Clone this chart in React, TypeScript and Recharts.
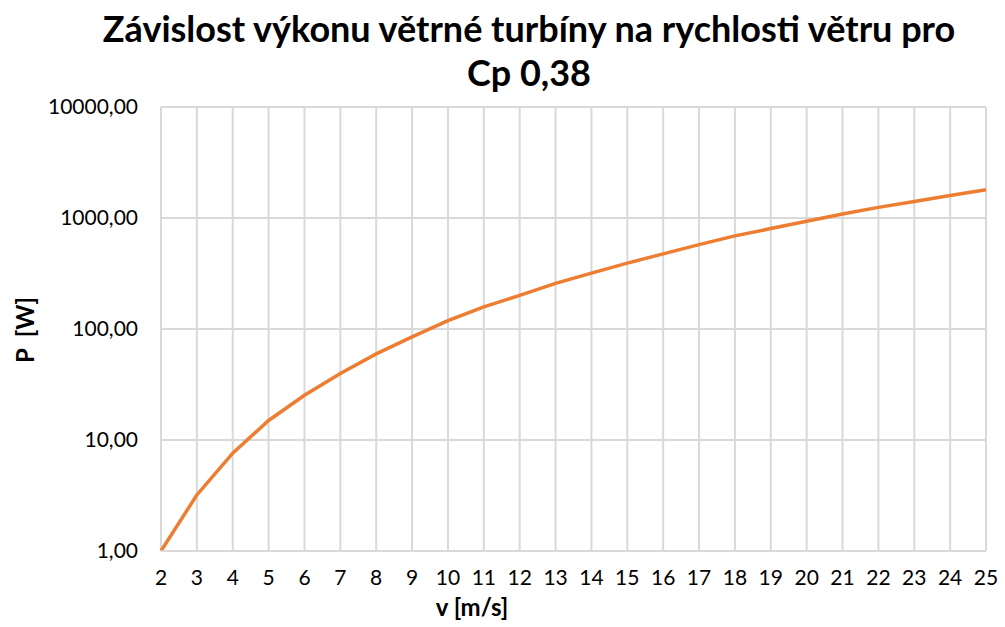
import { LineChart, Line, CartesianGrid, XAxis, YAxis } from "recharts";

const speeds = [2, 3, 4, 5, 6, 7, 8, 9, 10, 11, 12, 13, 14, 15, 16, 17, 18, 19, 20, 21, 22, 23, 24, 25];
const power = [
  1.0, 3.2, 7.6, 15.0, 25.3, 39.8, 59.7, 85.0, 118.7, 158, 201, 258, 319, 392,
  475, 575, 690, 803, 934, 1086, 1247, 1410, 1597, 1796,
];
const yTicks = [1, 10, 100, 1000, 10000];

const data = speeds.map((v, i) => ({ v: String(v), p: power[i] }));

const FONT = "Lato, 'Open Sans', sans-serif";
const fmt = (n: number) => n.toFixed(2).replace(".", ",");

export default function App() {
  return (
    <div
      style={{
        position: "absolute",
        left: 0,
        top: 0,
        width: 1005,
        height: 627,
        background: "#fff",
        fontFamily: FONT,
      }}
    >
      <div
        style={{
          position: "absolute",
          left: 0,
          top: 6,
          width: 1058,
          textAlign: "center",
          fontSize: 36,
          fontWeight: 700,
          lineHeight: "44px",
          color: "#000",
        }}
      >
        Závislost výkonu větrné turbíny na rychlosti větru pro
        <br />
        Cp 0,38
      </div>
      <LineChart
        width={1005}
        height={627}
        data={data}
        margin={{ top: 107, right: 19, bottom: 46, left: 36 }}
      >
        <CartesianGrid stroke="#d9d9d9" strokeWidth={2} />
        <XAxis
          dataKey="v"
          interval={0}
          tickLine={false}
          axisLine={{ stroke: "#d9d9d9", strokeWidth: 2 }}
          tickMargin={13}
          tick={{ fill: "#000", fontSize: 21, fontFamily: FONT }}
        />
        <YAxis
          scale="log"
          domain={[1, 10000]}
          ticks={yTicks}
          allowDataOverflow
          width={125}
          tickLine={false}
          axisLine={false}
          tickMargin={17}
          tickFormatter={fmt}
          tick={{ fill: "#000", fontSize: 21, fontFamily: FONT }}
        />
        <Line
          type="linear"
          dataKey="p"
          stroke="#ED7D31"
          strokeWidth={3.5}
          dot={false}
          isAnimationActive={false}
        />
      </LineChart>
      <div
        style={{
          position: "absolute",
          left: 412,
          top: 592,
          width: 120,
          textAlign: "center",
          fontSize: 24,
          fontWeight: 700,
        }}
      >
        v [m/s]
      </div>
      <div
        style={{
          position: "absolute",
          left: 24,
          top: 330,
          transform: "translate(-50%, -50%) rotate(-90deg)",
          fontSize: 24,
          fontWeight: 700,
          whiteSpace: "pre",
        }}
      >
        {"P  [W]"}
      </div>
    </div>
  );
}
